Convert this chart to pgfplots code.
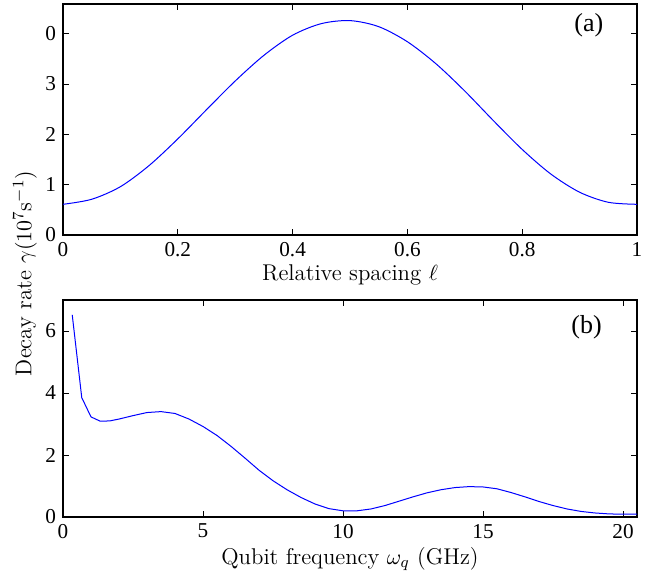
\documentclass[border=0pt]{standalone}
\usepackage{pgfplots}
\pgfplotsset{compat=1.18}
\usepackage{fontspec}
\newfontfamily\timesfont{Liberation Serif}

\pgfplotsset{
  panel/.style={
    scale only axis,
    width=287pt,
    anchor=south west,
    axis line style={line width=0.6pt},
    tick style={black, line width=0.5pt},
    tick align=inside,
    major tick length=3pt,
    ticklabel style={font=\timesfont\fontsize{10.6}{12}\selectfont},
    /pgf/number format/assume math mode=true,
    label style={font=\fontsize{11.4}{13}\selectfont},
  },
}

\begin{document}
\begin{tikzpicture}
\path[use as bounding box] (-31.5pt,-31pt) rectangle (302pt,258.5pt);

% (a) decay rate against relative spacing
\begin{axis}[panel,
  at={(0,141pt)}, height=115.5pt,
  xmin=0, xmax=1, ymin=0, ymax=4.59,
  xtick={0,0.2,0.4,0.6,0.8,1},
  ytick={0,1,2,3,4}, yticklabels={0,1,2,3,0},
  xlabel={Relative spacing $\ell$},
  xlabel style={yshift=3pt},
]
\addplot[blue, line width=0.5pt, smooth] coordinates {
  (0,0.61) (0.05,0.71) (0.1,0.96) (0.15,1.38) (0.2,1.91) (0.25,2.49)
  (0.3,3.06) (0.35,3.57) (0.4,3.97) (0.45,4.20) (0.5,4.26) (0.55,4.14)
  (0.6,3.84) (0.65,3.40) (0.7,2.86) (0.75,2.27) (0.8,1.70) (0.85,1.21)
  (0.9,0.85) (0.95,0.65) (1,0.61)
};
\node[font=\timesfont\fontsize{13}{15}\selectfont] at (axis cs:0.916,4.17) {(a)};
\end{axis}

% (b) decay rate against qubit frequency
\begin{axis}[panel,
  at={(0,0)}, height=108.5pt,
  xmin=0, xmax=20.5, ymin=0, ymax=7,
  xtick={0,5,10,15,20},
  ytick={0,2,4,6},
  xlabel={Qubit frequency $\omega_q$ (GHz)},
  xlabel style={yshift=2.5pt},
]
\addplot[blue, line width=0.5pt] coordinates {
  (0.33,6.52) (0.67,3.85) (1.0,3.23) (1.33,3.09) (1.67,3.10) (2.0,3.16)
  (2.5,3.27) (3.0,3.37) (3.5,3.40) (4.0,3.34) (4.5,3.16) (5.0,2.92)
  (5.5,2.63) (6.0,2.28) (6.5,1.90) (7.0,1.51) (7.5,1.17) (8.0,0.88)
  (8.5,0.63) (9.0,0.42) (9.5,0.27) (10.0,0.20) (10.5,0.20) (11.0,0.26)
  (11.5,0.37) (12.0,0.51) (12.5,0.65) (13.0,0.78) (13.5,0.88) (14.0,0.95)
  (14.5,0.98) (15.0,0.97) (15.5,0.91) (16.0,0.79) (16.5,0.65) (17.0,0.50)
  (17.5,0.37) (18.0,0.26) (18.5,0.18) (19.0,0.13) (19.5,0.10) (20.0,0.09)
  (20.5,0.09)
};
\node[font=\timesfont\fontsize{13}{15}\selectfont] at (axis cs:18.7,6.13) {(b)};
\end{axis}

\node[rotate=90, font=\fontsize{11.4}{13}\selectfont] at (-19pt,121.75pt)
  {Decay rate $\gamma(10^7\mathrm{s}^{-1})$};
\end{tikzpicture}
\end{document}
